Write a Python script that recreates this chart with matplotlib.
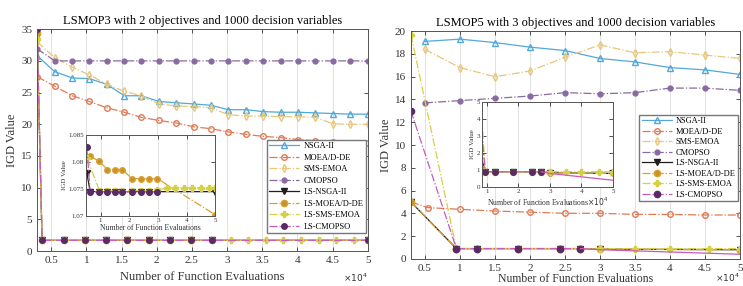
import matplotlib.pyplot as plt
from matplotlib.ticker import FuncFormatter

plt.rcParams['font.family'] = ['Liberation Serif', 'DejaVu Serif']
plt.rcParams['xtick.direction'] = 'in'
plt.rcParams['ytick.direction'] = 'in'

names = ['NSGA-II', 'MOEA/D-DE', 'SMS-EMOA', 'CMOPSO',
         'LS-NSGA-II', 'LS-MOEA/D-DE', 'LS-SMS-EMOA', 'LS-CMOPSO']

# ---------- LSMOP3 (left) ----------
x3 = [3000, 5500, 8000, 10400, 12900, 15400, 17800, 20300, 22800, 25300,
      27700, 30200, 32700, 35100, 37600, 40100, 42500, 45000, 47500, 50000]
nsga3 = [30.8, 28.3, 27.3, 27.2, 26.3, 24.5, 24.5, 23.6, 23.4, 23.2,
         23.0, 22.3, 22.3, 22.0, 21.9, 21.9, 21.8, 21.7, 21.6, 21.6]
moead3 = [27.5, 26.0, 24.5, 23.6, 22.6, 21.9, 21.1, 20.6, 20.2, 19.6,
          19.3, 18.8, 18.4, 18.1, 17.9, 17.6, 17.4, 17.2, 17.1, 17.0]
sms3 = [33.0, 30.5, 29.0, 27.8, 26.3, 25.2, 24.5, 23.2, 22.9, 22.8,
        22.6, 21.5, 21.3, 21.3, 21.2, 21.2, 21.1, 20.1, 20.0, 20.0]
cmopso3 = [31.9, 30.0, 30.0, 30.0, 30.0, 30.0, 30.0, 30.0, 30.0, 30.0,
           30.0, 30.0, 30.0, 30.0, 30.0, 30.0, 30.0, 30.0, 30.0, 30.0]

ls_x3 = [3000, 3700, 6800, 9800, 12800, 15800, 18900, 21900, 24900, 27900, 50000]
ls_nsga3 = [34.0, 1.7, 1.7, 1.7, 1.7, 1.7, 1.7, 1.7, 1.7, 1.7, 1.7]
ls_moead3 = [34.4, 1.7, 1.7, 1.7, 1.7, 1.7, 1.7, 1.7, 1.7, 1.7, 1.7]
ls_cmopso3 = [35.0, 1.7, 1.7, 1.7, 1.7, 1.7, 1.7, 1.7, 1.7, 1.7, 1.7]
ls_sms_x3 = [3000, 3700, 6800, 9800, 12800, 15800, 18900, 21900, 24900, 27900,
             30500, 33000, 35500, 38000, 40500, 43000, 45500, 48000, 50000]
ls_sms3 = [33.5, 1.7, 1.7, 1.7, 1.7, 1.7, 1.7, 1.7, 1.7, 1.7,
           1.7, 1.7, 1.7, 1.7, 1.7, 1.7, 1.7, 1.7, 1.7]

# inset of LSMOP3
in_x3 = [6400, 9600, 12400, 14900, 17500, 21000, 24000, 26700, 29800, 50000]
in_moead3 = [1.0811, 1.0801, 1.0786, 1.0786, 1.0786, 1.0769, 1.0769, 1.0769, 1.0769, 1.0702]
in_nsga_x3 = [5200, 6400, 9600, 12400, 14900, 17500, 21000, 24000, 26700, 29800, 50000]
in_nsga3 = [1.0780, 1.0745, 1.0745, 1.0745, 1.0745, 1.0745, 1.0745, 1.0745, 1.0745, 1.0745, 1.0745]
in_cmopso3 = [1.0828, 1.0745, 1.0745, 1.0745, 1.0745, 1.0745, 1.0745, 1.0745, 1.0745, 1.0745, 1.0745]
in_sms_x3 = [5300, 9600, 12400, 14900, 17500, 21000, 24000, 26700, 29800,
             33000, 36000, 39000, 42000, 45000, 47700, 50000]
in_sms3 = [1.0807, 1.0747, 1.0747, 1.0747, 1.0747, 1.0747, 1.0747, 1.0747, 1.0748,
           1.0752, 1.0752, 1.0752, 1.0752, 1.0752, 1.0752, 1.0752]

# ---------- LSMOP5 (right) ----------
x5 = [5000, 10000, 15000, 20000, 25000, 30000, 35000, 40000, 45000, 50000]
nsga5 = [19.1, 19.3, 19.0, 18.6, 18.3, 17.6, 17.3, 16.8, 16.6, 16.2]
sms5 = [18.4, 16.8, 16.0, 16.5, 17.7, 18.8, 18.1, 18.2, 17.9, 17.6]
cmopso5 = [13.7, 13.9, 14.1, 14.3, 14.6, 14.5, 14.6, 15.0, 15.0, 14.8]
moead_x5 = [3000, 5400, 10000, 15000, 20000, 25000, 30000, 35000, 40000, 45000, 50000]
moead5 = [5.0, 4.5, 4.35, 4.2, 4.1, 4.0, 4.0, 3.9, 3.9, 3.85, 3.85]

ls_x5 = [3000, 9500, 12500, 18300, 24300, 27200, 30000, 50000]
ls_nsga5 = [5.0, 0.9, 0.9, 0.9, 0.9, 0.9, 0.85, 0.8]
ls_moead5 = [5.0, 0.9, 0.9, 0.9, 0.9, 0.9, 0.85, 0.8]
ls_cmopso5 = [13.0, 0.9, 0.9, 0.9, 0.9, 0.9, 0.8, 0.4]
ls_sms_x5 = [3000, 9500, 12500, 18300, 24300, 27200, 30000, 35000, 40000, 45500, 50000]
ls_sms5 = [19.7, 0.9, 0.9, 0.9, 0.9, 0.9, 0.9, 0.9, 0.9, 0.9, 0.9]

# styles: color, marker, face, linestyle
st = {
    'NSGA-II': ('#52a8d8', '^', 'none', '-'),
    'MOEA/D-DE': ('#e07a55', 'o', 'none', '-.'),
    'SMS-EMOA': ('#e8c67a', 'd', 'none', '-.'),
    'CMOPSO': ('#8a6aa3', 'o', '#8a6aa3', '-.'),
    'LS-NSGA-II': ('#1e1e1e', 'v', '#1e1e1e', '-'),
    'LS-MOEA/D-DE': ('#d9a02e', 'o', '#c8922a', '-.'),
    'LS-SMS-EMOA': ('#d6d045', 'P', '#d6d045', '-.'),
    'LS-CMOPSO': ('#c85ab8', 'o', '#5a2a66', '-.'),
}


def draw(ax, name, x, y, ms=4, lw=0.9, label=True):
    c, m, f, ls = st[name]
    ec = '#5a2a66' if name == 'LS-CMOPSO' else c
    ax.plot(x, y, color=c, marker=m, markerfacecolor=f, markeredgecolor=ec,
            markersize=ms, linestyle=ls, linewidth=lw,
            label=name if label else None)


def style(ax, size=8):
    for s in ax.spines.values():
        s.set_color('#555555')
        s.set_linewidth(0.7)
    ax.tick_params(top=True, right=True, labelsize=size, colors='#333333',
                   length=3, width=0.6)
    ax.grid(axis='x', color='#dddddd', linewidth=0.6)
    ax.set_axisbelow(True)


fmt = FuncFormatter(lambda v, p: '%g' % (v / 1e4))
xt = [5000, 10000, 15000, 20000, 25000, 30000, 35000, 40000, 45000, 50000]
leg_kw = dict(loc='upper right', fontsize=6, fancybox=False, edgecolor='#777777',
              framealpha=1, handlelength=3.6, borderpad=0.3, handletextpad=0.5,
              borderaxespad=0.2)

fig = plt.figure(figsize=(7.43, 2.86), dpi=100)

# ---- left ----
a3 = fig.add_axes([0.050, 0.122, 0.445, 0.776])
draw(a3, 'NSGA-II', x3, nsga3)
draw(a3, 'MOEA/D-DE', x3, moead3)
draw(a3, 'SMS-EMOA', x3, sms3)
draw(a3, 'CMOPSO', x3, cmopso3, ms=3.5)
draw(a3, 'LS-NSGA-II', ls_x3, ls_nsga3, ms=4.5)
draw(a3, 'LS-MOEA/D-DE', ls_x3, ls_moead3, ms=4.5)
draw(a3, 'LS-SMS-EMOA', ls_sms_x3, ls_sms3, ms=4.5)
draw(a3, 'LS-CMOPSO', ls_x3, ls_cmopso3, ms=4)
a3.set_xlim(3000, 50000)
a3.set_ylim(0, 35)
a3.set_xticks(xt)
a3.xaxis.set_major_formatter(fmt)
style(a3)
a3.set_title('LSMOP3 with 2 objectives and 1000 decision variables', fontsize=9, pad=4)
a3.set_xlabel('Number of Function Evaluations', fontsize=9, color='#333333', labelpad=4)
a3.set_ylabel('IGD Value', fontsize=9, color='#333333', labelpad=2)
a3.text(1.0, -0.12, r'$\times10^4$', transform=a3.transAxes, fontsize=6.5,
        ha='right', va='center', color='#333333')
a3.legend(bbox_to_anchor=(1.0, 0.51), labelspacing=0.42, **leg_kw)

i3 = fig.add_axes([0.116, 0.245, 0.174, 0.283])
draw(i3, 'LS-NSGA-II', in_nsga_x3, in_nsga3, ms=4, label=False)
draw(i3, 'LS-MOEA/D-DE', in_x3, in_moead3, ms=4, label=False)
draw(i3, 'LS-SMS-EMOA', in_sms_x3, in_sms3, ms=4, label=False)
draw(i3, 'LS-CMOPSO', in_nsga_x3[:-1], in_cmopso3[:-1], ms=4, label=False)
i3.set_xlim(5000, 50000)
i3.set_ylim(1.07, 1.085)
i3.set_xticks([10000, 20000, 30000, 40000, 50000])
i3.xaxis.set_major_formatter(fmt)
i3.set_yticks([1.07, 1.075, 1.08, 1.085])
i3.set_yticklabels(['1.07', '1.075', '1.08', '1.085'])
style(i3, size=5)
i3.tick_params(pad=1.5)
i3.set_xlabel('Number of Function Evaluations', fontsize=5.5, color='#333333', labelpad=1)
i3.set_ylabel('IGD Value', fontsize=5, color='#333333', labelpad=1)

# ---- right ----
a5 = fig.add_axes([0.553, 0.095, 0.443, 0.796])
draw(a5, 'NSGA-II', x5, nsga5)
draw(a5, 'MOEA/D-DE', moead_x5, moead5)
draw(a5, 'SMS-EMOA', x5, sms5)
draw(a5, 'CMOPSO', x5, cmopso5, ms=3.5)
draw(a5, 'LS-NSGA-II', ls_x5, ls_nsga5, ms=4.5)
draw(a5, 'LS-MOEA/D-DE', ls_x5, ls_moead5, ms=4.5)
draw(a5, 'LS-SMS-EMOA', ls_sms_x5, ls_sms5, ms=4.5)
draw(a5, 'LS-CMOPSO', ls_x5[:-2], ls_cmopso5[:-2], ms=4.5)
a5.plot(ls_x5[-3:], ls_cmopso5[-3:], color=st['LS-CMOPSO'][0], linewidth=0.9)
a5.set_xlim(3000, 50000)
a5.set_ylim(0, 20)
a5.set_yticks(range(0, 21, 2))
a5.set_xticks(xt)
a5.xaxis.set_major_formatter(fmt)
style(a5)
a5.set_title('LSMOP5 with 3 objectives and 1000 decision variables', fontsize=9, pad=4)
a5.set_xlabel('Number of Function Evaluations', fontsize=8.5, color='#333333', labelpad=0)
a5.set_ylabel('IGD Value', fontsize=9, color='#333333', labelpad=2)
a5.text(1.0, -0.083, r'$\times10^4$', transform=a5.transAxes, fontsize=6.5,
        ha='right', va='center', color='#333333')
a5.legend(bbox_to_anchor=(1.0, 0.64), labelspacing=0.3, **leg_kw)

i5 = fig.add_axes([0.649, 0.346, 0.176, 0.297])
draw(i5, 'LS-NSGA-II', ls_x5, ls_nsga5, ms=4, label=False)
draw(i5, 'LS-MOEA/D-DE', ls_x5, ls_moead5, ms=4, label=False)
draw(i5, 'LS-SMS-EMOA', ls_sms_x5, ls_sms5, ms=4, label=False)
draw(i5, 'LS-CMOPSO', ls_x5[:-2], ls_cmopso5[:-2], ms=4, label=False)
i5.plot(ls_x5[-3:], ls_cmopso5[-3:], color=st['LS-CMOPSO'][0], linewidth=0.9)
i5.set_xlim(8500, 50000)
i5.set_ylim(0, 5)
i5.set_xticks([10000, 20000, 30000, 40000, 50000])
i5.xaxis.set_major_formatter(fmt)
style(i5, size=5)
i5.tick_params(pad=1.5)
i5.set_xlabel(r'Number of Function Evaluations$\times10^4$', fontsize=5.5,
              color='#333333', labelpad=1)
i5.set_ylabel('IGD Value', fontsize=5, color='#333333', labelpad=1)

fig.savefig('out.png', dpi=100)
